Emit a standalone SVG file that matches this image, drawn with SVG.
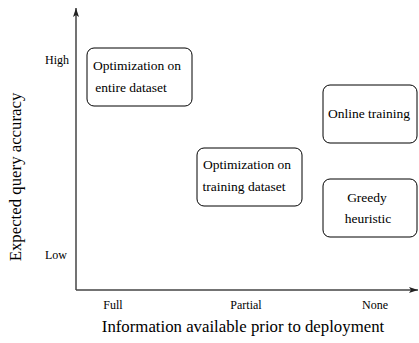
<svg xmlns="http://www.w3.org/2000/svg" width="419" height="343" viewBox="0 0 419 343">
<style>
text{font-family:"Liberation Serif","Times New Roman",serif;fill:#000}
.t{font-size:12px}
.b{font-size:13.5px;text-anchor:middle}
.k{font-size:12px;text-anchor:middle}
.ax{font-size:16.8px;text-anchor:middle}
.box{fill:#fff;stroke:#000;stroke-width:1}
.axis{stroke:#444;stroke-width:1.5;fill:none}
</style>
<defs>
<marker id="ah" markerWidth="10" markerHeight="8" refX="9" refY="4" orient="auto" markerUnits="userSpaceOnUse">
<path d="M0,1 L9,4 L0,7 L2,4 Z" fill="#222"/>
</marker>
</defs>
<g id="axes">
<path class="axis" d="M76,290 V8" marker-end="url(#ah)"/>
<path class="axis" d="M76,290 H418" marker-end="url(#ah)"/>
</g>
<g id="labels">
<text x="45" y="64" class="t">High</text>
<text x="45" y="259" class="t">Low</text>
<text x="113" y="309" class="k">Full</text>
<text x="246" y="309" class="k">Partial</text>
<text x="375" y="309" class="k">None</text>
<text x="243" y="332" class="ax">Information available prior to deployment</text>
<text transform="translate(21,177) rotate(-90)" class="ax">Expected query accuracy</text>
</g>
<g id="n1"><rect class="box" x="87" y="48" width="105" height="58" rx="7"/>
<text x="137" y="70" class="b">Optimization on</text><text x="131" y="92" class="b">entire dataset</text></g>
<g id="n2"><rect class="box" x="197" y="148" width="105" height="58" rx="7"/>
<text x="247" y="169" class="b">Optimization on</text><text x="244" y="191" class="b">training dataset</text></g>
<g id="n3"><rect class="box" x="323" y="85" width="94" height="58" rx="7"/>
<text x="369" y="118" class="b">Online training</text></g>
<g id="n4"><rect class="box" x="323" y="179" width="94" height="58" rx="7"/>
<text x="367" y="202" class="b">Greedy</text><text x="368" y="223" class="b">heuristic</text></g>
</svg>
